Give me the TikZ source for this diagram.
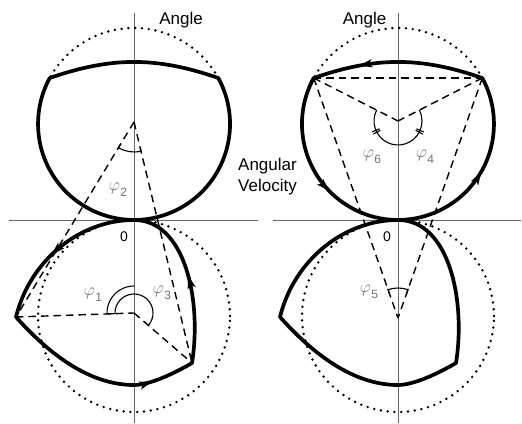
\documentclass[tikz,border=0pt]{standalone}
\usepackage{fontspec}
\setmainfont{Liberation Sans}
\usetikzlibrary{arrows.meta,decorations.markings,calc}
\newcommand\phlab[1]{$\varphi$\kern0.5pt\raisebox{-0.35em}{\fontsize{12pt}{12pt}\selectfont #1}}
\begin{document}
\begin{tikzpicture}[x=1pt,y=1pt,
  axis/.style={draw=black!60,line width=0.9pt},
  traj/.style={line width=3.7pt,line join=round,line cap=round},
  dsh/.style={line width=1.4pt,dash pattern=on 7.5pt off 5pt},
  dots/.style={line width=2.7pt,line cap=round,dash pattern=on 0pt off 6.8pt},
  amark/.style={line width=1.1pt},
  lbl/.style={text=black!55,font=\fontsize{18}{20}\selectfont,inner sep=0pt},
  ttl/.style={font=\fontsize{17}{21}\selectfont,inner sep=0pt,align=center},
  zero/.style={font=\fontsize{14}{16}\selectfont,inner sep=0pt},
  mytip/.tip={Stealth[length=13pt,width=8pt,inset=3pt]}
  ]
\fill[white] (0,0) rectangle (522,423);
\useasboundingbox (0,0) rectangle (522,423);

% coordinates, left panel
\coordinate (O1) at (134,203);
\coordinate (CU1) at (134,299);
\coordinate (CL1) at (134,107);
\coordinate (A1) at (49.7,345);
\coordinate (B1) at (218.3,345);
\coordinate (P2) at (134,301);
\coordinate (L1) at (16,106);
\coordinate (M1) at (134,38);
\coordinate (R1) at (192,60);
\coordinate (C1) at (134,110);
% right panel
\coordinate (O2) at (398,203);
\coordinate (CU2) at (398,299);
\coordinate (CL2) at (398,107);
\coordinate (A2) at (313.7,345);
\coordinate (B2) at (482.3,345);
\coordinate (C6) at (398,302);
\coordinate (P5) at (398,105);
\coordinate (L2) at (280,106);
\coordinate (M2) at (398,38);
\coordinate (R2) at (456,60);
% axis ends
\coordinate (hl1) at (9,203);  \coordinate (hl2) at (258,203);
\coordinate (hr1) at (273,203); \coordinate (hr2) at (521,203);
\coordinate (vl1) at (134,410); \coordinate (vl2) at (134,0);
\coordinate (vr1) at (398,410); \coordinate (vr2) at (398,0);

% axes
\draw[axis] (hl1) -- (hl2);
\draw[axis] (hr1) -- (hr2);
\draw[axis] (vl1) -- (vl2);
\draw[axis] (vr1) -- (vr2);

% dotted circles
\draw[dots] (CU1) circle[radius=96];
\draw[dots] (CL1) circle[radius=96];
\draw[dots] (CU2) circle[radius=96];
\draw[dots] (CL2) circle[radius=96];

% dashed construction lines, left
\draw[dsh] (P2) -- (L1);
\draw[dsh] (P2) -- (R1);
\draw[dsh] (L1) -- (C1);
\draw[dsh] (C1) -- (R1);
% dashed construction lines, right
\draw[dsh] (A2) -- (B2);
\draw[dsh] (A2) -- (C6);
\draw[dsh] (B2) -- (C6);
\draw[dsh] (A2) -- (P5);
\draw[dsh] (B2) -- (P5);

% thick trajectories
\draw[traj] (A1) to[bend left=19] (B1) arc[start angle=28.6,end angle=-208.6,radius=96] -- cycle;
\draw[traj,postaction={decorate},decoration={markings,
   mark=at position 0.17 with {\arrow{mytip}},
   mark=at position 0.6 with {\arrow{mytip}},
   mark=at position 0.845 with {\arrow{mytip}}}]
  (O1) .. controls (80,203) and (30,163) .. (L1)
       .. controls (50,68) and (90,38) .. (M1)
       .. controls (150,38) and (175,50) .. (R1)
       .. controls (202,123) and (185,203) .. (O1);
\draw[traj,postaction={decorate},decoration={markings,
   mark=at position 0.22 with {\arrow{mytip}},
   mark=at position 0.517 with {\arrow{mytip}},
   mark=at position 0.828 with {\arrow{mytip}}}]
  (B2) to[bend right=19] (A2) arc[start angle=151.4,end angle=388.6,radius=96] -- cycle;
\draw[traj]
  (O2) .. controls (344,203) and (294,163) .. (L2)
       .. controls (314,68) and (354,38) .. (M2)
       .. controls (414,38) and (439,50) .. (R2)
       .. controls (466,123) and (449,203) .. (O2);

% angle marks
\draw[amark] ($(P2)+(238.8:30)$) arc[start angle=238.8,end angle=283.5,radius=30];
\draw[amark] ($(P2)+(238.8:26)$) -- ($(P2)+(238.8:31)$);
\draw[amark] ($(P2)+(283.5:26)$) -- ($(P2)+(283.5:31)$);

\draw[amark] ($(P5)+(70.6:30)$) arc[start angle=70.6,end angle=109.4,radius=30];
\draw[amark] ($(P5)+(70.6:26)$) -- ($(P5)+(70.6:31)$);
\draw[amark] ($(P5)+(109.4:26)$) -- ($(P5)+(109.4:31)$);

\draw[amark] ($(C1)+(90:27)$) arc[start angle=90,end angle=182,radius=27]
   -- ($(C1)+(182:19)$) arc[start angle=182,end angle=-40.8,radius=19];

\draw[amark] ($(C6)+(153:24)$) arc[start angle=153,end angle=387,radius=24];
\draw[amark] ($(C6)+(203:20)$) -- ($(C6)+(203:28)$);
\draw[amark] ($(C6)+(208:20)$) -- ($(C6)+(208:28)$);
\draw[amark] ($(C6)+(332:20)$) -- ($(C6)+(332:28)$);
\draw[amark] ($(C6)+(337:20)$) -- ($(C6)+(337:28)$);

% labels
\node[ttl,anchor=base] (angL) at (181,398) {Angle};
\node[ttl,anchor=base] (angR) at (364.5,398) {Angle};
\node[ttl,anchor=base] (angv) at (267.5,231) {Angular\\Velocity};
\node[zero,anchor=base] (z1) at (124,181) {0};
\node[zero,anchor=base] (z2) at (387,181) {0};
\node[lbl] (f2) at (118,233) {\phlab{2}};
\node[lbl] (f1) at (93,128) {\phlab{1}};
\node[lbl] (f3) at (162,130) {\phlab{3}};
\node[lbl] (f6) at (372,266) {\phlab{6}};
\node[lbl] (f4) at (425,266) {\phlab{4}};
\node[lbl] (f5) at (369,131) {\phlab{5}};
\end{tikzpicture}
\end{document}
